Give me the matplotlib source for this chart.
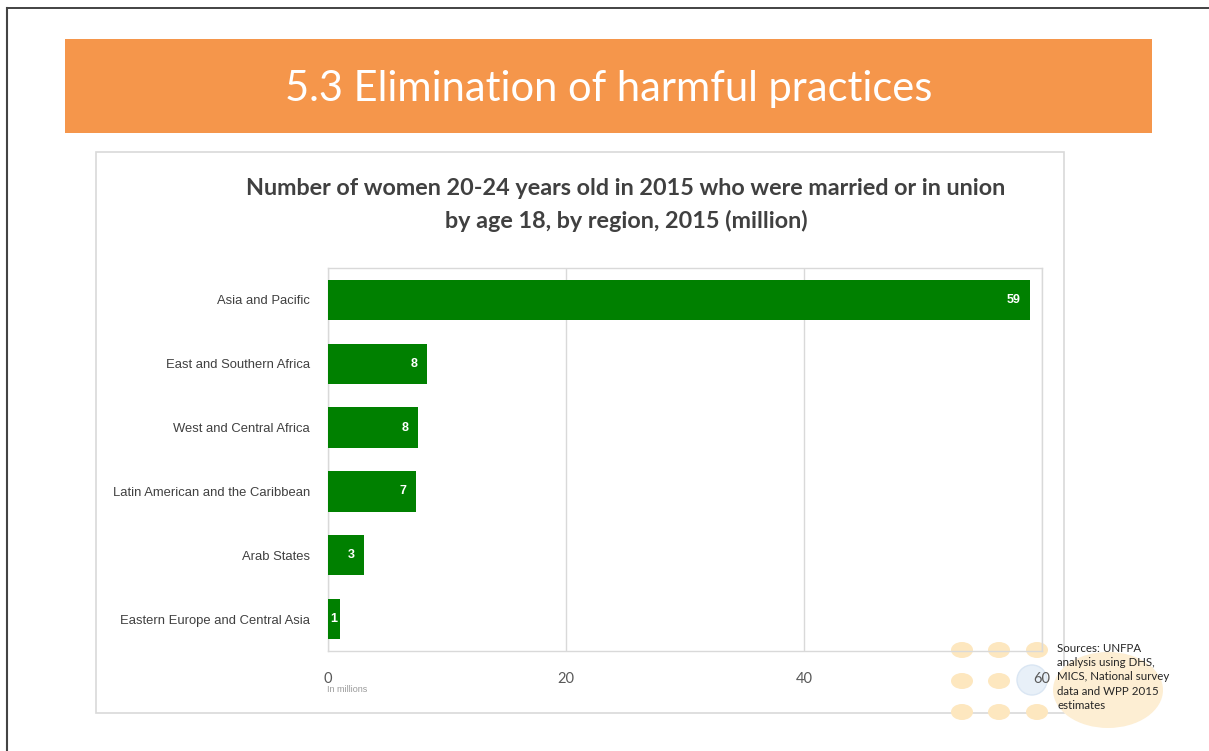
import matplotlib
matplotlib.use("Agg")
import matplotlib.pyplot as plt
from matplotlib.patches import Rectangle, Ellipse
import numpy as np

# Data
regions = [
    "Asia and Pacific",
    "East and Southern Africa",
    "West and Central Africa",
    "Latin American and the Caribbean",
    "Arab States",
    "Eastern Europe and Central Asia",
]
women_millions = [59.0, 8.3, 7.55, 7.4, 3.05, 1.0]
x_ticks = [0, 20, 40, 60]

banner_title = "5.3 Elimination of harmful practices"
chart_title = ("Number of women 20-24 years old in 2015 who were married or in union\n"
               "by age 18, by region, 2015 (million)")
sources_text = "Sources: UNFPA\nanalysis using DHS,\nMICS, National survey\ndata and WPP 2015\nestimates"

W, H = 1209, 751
fig = plt.figure(figsize=(W / 100, H / 100), dpi=100)
fig.patch.set_facecolor("white")

NARROW = ["Liberation Sans", "DejaVu Sans"]
HUMAN = ["Lato", "DejaVu Sans"]

# Page layer in pixel coordinates
bg = fig.add_axes([0, 0, 1, 1], zorder=0)
bg.set_xlim(0, W)
bg.set_ylim(H, 0)
bg.axis("off")

# page frame (top and left edges)
bg.plot([7, W], [8, 8], color="#222222", lw=1.2)
bg.plot([7, 7], [8, H], color="#444444", lw=1.5)

# orange banner
bg.add_patch(Rectangle((65, 39), 1087, 94, facecolor="#F5964B", edgecolor="none"))
bg.text(609, 89, banner_title, color="white", fontsize=30, family=HUMAN,
        ha="center", va="center")

# chart box
bg.add_patch(Rectangle((96, 152), 968, 561, facecolor="white", edgecolor="#d9d9d9", lw=1.2))
bg.text(626, 205, chart_title, color="#404040", fontsize=16.8, family=HUMAN,
        fontweight="bold", ha="center", va="center", linespacing=1.55)

# logo decoration bottom-right
bg.add_patch(Ellipse((1108, 690), 110, 76, facecolor="#fdeed3", edgecolor="none"))
for yy in (650, 681, 712):
    for xx in (962, 999, 1037):
        bg.add_patch(Ellipse((xx, yy), 22, 16, facecolor="#fde7bf", edgecolor="none"))
bg.add_patch(Ellipse((1032, 680), 30, 30, facecolor="#e8f0f8", edgecolor="#dae6f3", lw=1))
bg.text(1057, 677, sources_text, color="#262626", fontsize=8.3, family=HUMAN,
        ha="left", va="center", linespacing=1.35)
bg.text(327, 690, "In millions", color="#9a9a9a", fontsize=6.5, family=NARROW,
        ha="left", va="center")

# Bar chart
x0, x1, y0, y1 = 328, 1042, 268, 651
ax = fig.add_axes([x0 / W, 1 - y1 / H, (x1 - x0) / W, (y1 - y0) / H], zorder=1)
ax.patch.set_alpha(0)

ypos = np.arange(len(regions))
bars = ax.barh(ypos, women_millions, height=0.63, color="#008000", zorder=3)
ax.set_ylim(len(regions) - 0.5, -0.5)
ax.set_xlim(0, 60)
ax.set_xticks(x_ticks)
ax.set_yticks(ypos)
ax.set_yticklabels(regions, family=NARROW, fontsize=9.4, color="#404040")
ax.set_xticklabels([str(t) for t in x_ticks], family=HUMAN, fontsize=10.5, color="#595959")
ax.tick_params(axis="x", length=0, pad=15)
ax.tick_params(axis="y", length=0, pad=13)
ax.grid(axis="x", color="#d9d9d9", lw=1, zorder=0)
for s in ax.spines.values():
    s.set_color("#d9d9d9")
    s.set_linewidth(1)

for rect, v in zip(bars, women_millions):
    xr = rect.get_width()
    yc = rect.get_y() + rect.get_height() / 2
    if v < 2:
        ax.text(xr / 2, yc, f"{v:.0f}", color="white", fontsize=9, family=NARROW,
                fontweight="bold", ha="center", va="center", zorder=4)
    else:
        ax.annotate(f"{v:.0f}", (xr, yc), xytext=(-7, 0), textcoords="offset points",
                    color="white", fontsize=9, family=NARROW, fontweight="bold",
                    ha="right", va="center", zorder=4)

fig.savefig("out.png", dpi=100, facecolor="white")
